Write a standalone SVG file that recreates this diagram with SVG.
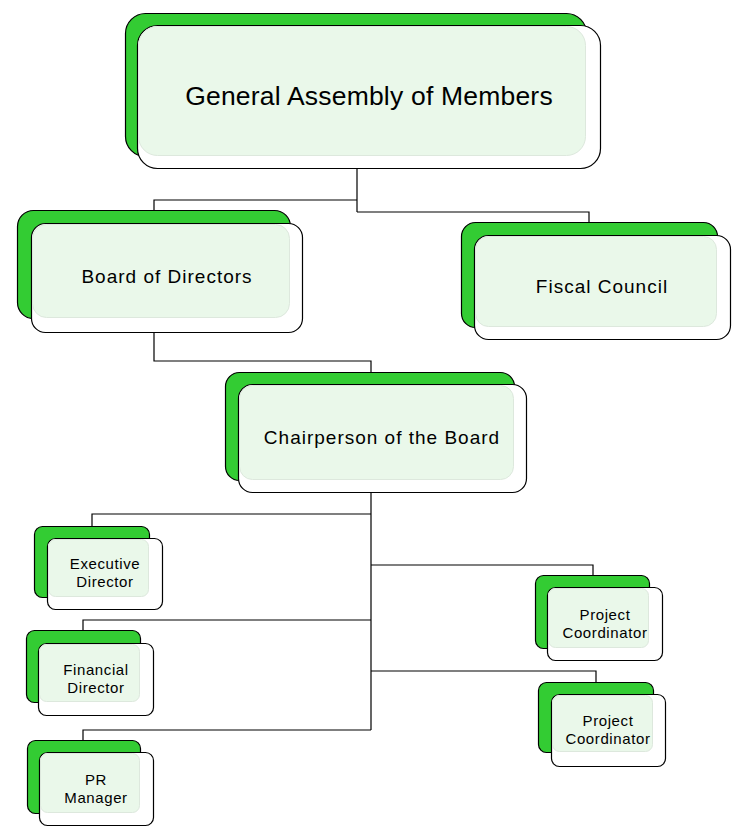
<svg xmlns="http://www.w3.org/2000/svg" width="744" height="838" viewBox="0 0 744 838">
<style>
.g{fill:#33CC33;stroke:#000;stroke-width:1.2}
.w{fill:#fff;stroke:#000;stroke-width:1.2}
.l{fill:#EAF8EA;stroke:#DDE8DD;stroke-width:1}
.c{fill:none;stroke:#000;stroke-width:1.2}
text{font-family:"Liberation Sans",Arial,sans-serif;fill:#000;text-anchor:middle}
.big{font-size:26.5px;letter-spacing:0.2px}
.mid{font-size:19px;letter-spacing:1px}
.sm{font-size:15px;letter-spacing:0.6px}
</style>
<rect width="744" height="838" fill="#fff"/>
<g id="connectors">
<path class="c" d="M357 169V212M357 200H154V210M357 212H589V222"/>
<path class="c" d="M154 333V361H371V372"/>
<path class="c" d="M371 492V730M371 514H92V526M371 565H593V575M371 620H83V630M371 671H596V682M371 730H83V740"/>
</g>
<g id="general-assembly">
<rect class="g" x="125.5" y="13.5" width="461" height="143" rx="20"/>
<rect class="w" x="137.5" y="25.5" width="463" height="143" rx="20"/>
<rect class="l" x="138.5" y="26.5" width="447" height="129" rx="19"/>
<text class="big" x="369" y="105">General Assembly of Members</text>
</g>
<g id="board">
<rect class="g" x="17.5" y="210.5" width="273" height="108" rx="16"/>
<rect class="w" x="31.5" y="223.5" width="271" height="109" rx="14"/>
<rect class="l" x="32.5" y="224.5" width="257" height="93" rx="14"/>
<text class="mid" x="167" y="283">Board of Directors</text>
</g>
<g id="fiscal">
<rect class="g" x="461.5" y="222.5" width="256" height="105" rx="14"/>
<rect class="w" x="474.5" y="235.5" width="256" height="104" rx="14"/>
<rect class="l" x="475.5" y="236.5" width="241" height="90" rx="13"/>
<text class="mid" x="602" y="293">Fiscal Council</text>
</g>
<g id="chairperson">
<rect class="g" x="225.5" y="372.5" width="289" height="108" rx="14"/>
<rect class="w" x="238.5" y="384.5" width="288" height="108" rx="14"/>
<rect class="l" x="239.5" y="385.5" width="274" height="94" rx="13"/>
<text class="mid" x="382" y="444">Chairperson of the Board</text>
</g>
<g id="executive-director">
<rect class="g" x="34.5" y="526.5" width="115" height="71" rx="8"/>
<rect class="w" x="47.5" y="538.5" width="115" height="71" rx="8"/>
<rect class="l" x="48.5" y="539.5" width="100" height="57" rx="7"/>
<text class="sm" x="105" y="569">Executive</text>
<text class="sm" x="105" y="587">Director</text>
</g>
<g id="financial-director">
<rect class="g" x="26.5" y="630.5" width="114" height="72" rx="8"/>
<rect class="w" x="38.5" y="643.5" width="115" height="72" rx="8"/>
<rect class="l" x="39.5" y="644.5" width="100" height="57" rx="7"/>
<text class="sm" x="96" y="675">Financial</text>
<text class="sm" x="96" y="693">Director</text>
</g>
<g id="pr-manager">
<rect class="g" x="27.5" y="740.5" width="113" height="73" rx="8"/>
<rect class="w" x="39.5" y="752.5" width="114" height="73" rx="8"/>
<rect class="l" x="40.5" y="753.5" width="99" height="59" rx="7"/>
<text class="sm" x="96" y="785">PR</text>
<text class="sm" x="96" y="803">Manager</text>
</g>
<g id="project-coordinator-1">
<rect class="g" x="535.5" y="575.5" width="114" height="73" rx="8"/>
<rect class="w" x="547.5" y="587.5" width="115" height="73" rx="8"/>
<rect class="l" x="548.5" y="588.5" width="100" height="59" rx="7"/>
<text class="sm" x="605" y="620">Project</text>
<text class="sm" x="605" y="638">Coordinator</text>
</g>
<g id="project-coordinator-2">
<rect class="g" x="538.5" y="682.5" width="115" height="70" rx="8"/>
<rect class="w" x="551.5" y="694.5" width="114" height="72" rx="8"/>
<rect class="l" x="552.5" y="695.5" width="100" height="56" rx="7"/>
<text class="sm" x="608" y="726">Project</text>
<text class="sm" x="608" y="744">Coordinator</text>
</g>
</svg>
